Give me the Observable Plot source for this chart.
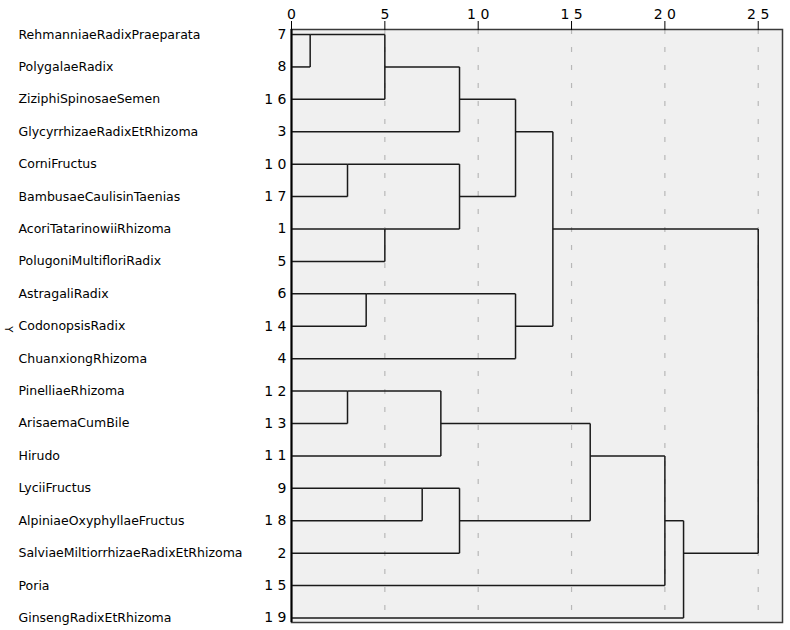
<!DOCTYPE html>
<html>
<head>
<meta charset="utf-8">
<script src="https://cdn.jsdelivr.net/npm/d3@7"></script>
<script src="https://cdn.jsdelivr.net/npm/@observablehq/plot@0.6"></script>
<style>
  html, body { margin: 0; padding: 0; background: #fff; }
  svg { display: block; }
</style>
</head>
<body>
<div id="chart"></div>
<script>
// Leaf order (top to bottom) – case numbers
const caseNumbers = [7, 8, 16, 3, 10, 17, 1, 5, 6, 14, 4, 12, 13, 11, 9, 18, 2, 15, 19];
// Leaf names in the same order
const leafNames = [
  "RehmanniaeRadixPraeparata", "PolygalaeRadix", "ZiziphiSpinosaeSemen",
  "GlycyrrhizaeRadixEtRhizoma", "CorniFructus", "BambusaeCaulisinTaenias",
  "AcoriTatarinowiiRhizoma", "PolugoniMultifloriRadix", "AstragaliRadix",
  "CodonopsisRadix", "ChuanxiongRhizoma", "PinelliaeRhizoma", "ArisaemaCumBile",
  "Hirudo", "LyciiFructus", "AlpiniaeOxyphyllaeFructus",
  "SalviaeMiltiorrhizaeRadixEtRhizoma", "Poria", "GinsengRadixEtRhizoma"
];
// Agglomeration stages: first member, second member (case number, or "sN" for stage N), rescaled distance
const stageA = [7, 10, 12, 6, "s1", 1, 9, "s3", "s5", "s2", "s7", "s9", "s4", "s12", "s8", "s15", "s16", "s14"];
const stageB = [8, 17, 13, 14, 16, 5, 18, 11, 3, "s6", 2, "s10", 4, "s13", "s11", 15, 19, "s17"];
const stageDist = [1, 3, 3, 4, 5, 5, 7, 8, 9, 9, 9, 12, 12, 14, 16, 20, 21, 25];
// Axis ticks
const tickValues = [0, 5, 10, 15, 20, 25];

// Build dendrogram segments
const nodePos = {};
caseNumbers.forEach((c, i) => { nodePos["c" + c] = {x: 0, y: i}; });
const key = v => typeof v === "number" ? "c" + v : v;
const segments = [];
stageDist.forEach((d, i) => {
  const a = nodePos[key(stageA[i])], b = nodePos[key(stageB[i])];
  segments.push({x1: a.x, y1: a.y, x2: d, y2: a.y});
  segments.push({x1: b.x, y1: b.y, x2: d, y2: b.y});
  segments.push({x1: d, y1: a.y, x2: d, y2: b.y});
  nodePos["s" + (i + 1)] = {x: d, y: Math.floor((a.y + b.y) / 2)};
});

const rows = caseNumbers.map((c, i) => ({row: i, num: String(c).split("").join(" "), name: leafNames[i]}));
const fontFam = "'DejaVu Sans', sans-serif";

const chart = Plot.plot({
  width: 790,
  height: 630,
  marginLeft: 291,
  marginRight: 8,
  marginTop: 29,
  marginBottom: 8,
  style: {fontFamily: fontFam, fontSize: "13px", color: "#000", background: "#fff"},
  x: {domain: [0, 26.3], axis: null},
  y: {domain: [-0.155, 18.14], reverse: true, axis: null},
  marks: [
    Plot.frame({fill: "#f0f0f0", stroke: "none"}),
    Plot.ruleX(tickValues.filter(t => t > 0), {stroke: "#b8b8b8", strokeWidth: 1.2, strokeDasharray: "5,13"}),
    Plot.link(segments, {x1: "x1", y1: "y1", x2: "x2", y2: "y2", stroke: "#1a1a1a", strokeWidth: 1.5}),
    Plot.frame({stroke: "#3a3a3a", strokeWidth: 1.5}),
    Plot.ruleX([0], {stroke: "#000", strokeWidth: 2}),
    Plot.axisX(tickValues, {anchor: "top", tickSize: 9, tickPadding: 2, fontSize: 14,
      tickFormat: d => String(d).split("").join(" "), label: null, stroke: "#000"}),
    Plot.text(rows, {y: "row", text: "num", frameAnchor: "left", textAnchor: "end", dx: -5, fontSize: 14, fill: "#000"}),
    Plot.text(rows, {y: "row", text: "name", frameAnchor: "left", textAnchor: "start", dx: -273, fontSize: 12.5, fill: "#000"}),
    Plot.text(["Y"], {y: [9], text: d => d, frameAnchor: "left", dx: -283, rotate: 90, fontSize: 10, fill: "#000"})
  ]
});
document.getElementById("chart").appendChild(chart);
</script>
</body>
</html>
